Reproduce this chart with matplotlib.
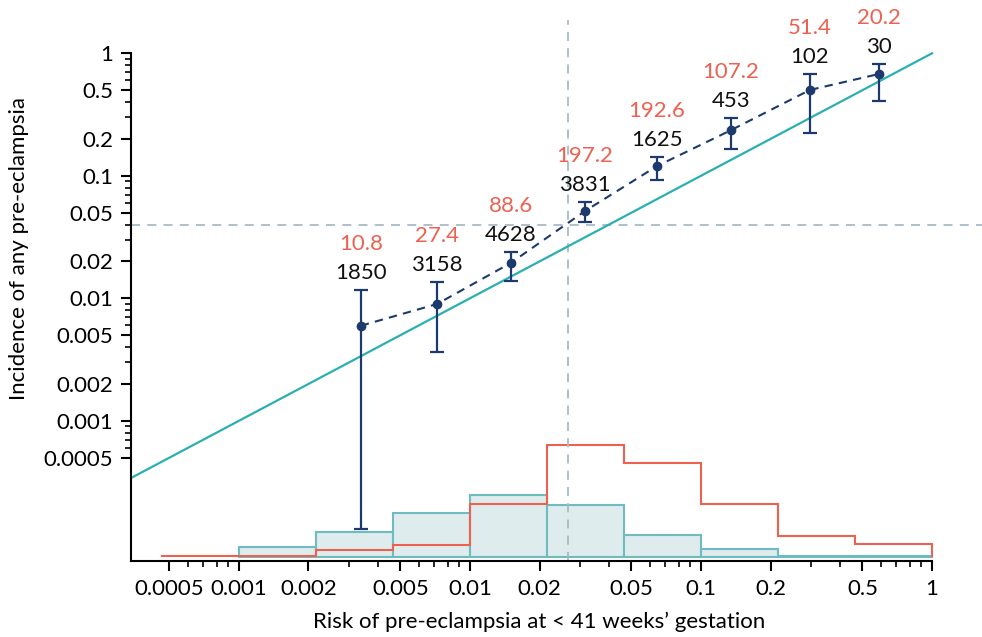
import numpy as np
import matplotlib.pyplot as plt
from matplotlib.ticker import FixedLocator, NullFormatter

plt.rcParams['font.family'] = ['Lato', 'DejaVu Sans']

# calibration groups
pred = [0.00337, 0.0072, 0.0150, 0.0315, 0.0645, 0.135, 0.296, 0.590]
obs = [0.00597, 0.00898, 0.0194, 0.0516, 0.120, 0.236, 0.502, 0.678]
obs_lo = [0.000130, 0.00365, 0.0138, 0.0420, 0.0924, 0.166, 0.224, 0.408]
obs_hi = [0.0117, 0.0136, 0.0239, 0.0611, 0.142, 0.296, 0.678, 0.818]
n_women = ['1850', '3158', '4628', '3831', '1625', '453', '102', '30']
n_events = ['10.8', '27.4', '88.6', '197.2', '192.6', '107.2', '51.4', '20.2']

# histogram of predicted risk (relative frequency), bins of 1/3 decade
bin_exp = [-10, -9, -8, -7, -6, -5, -4, -3, -2, -1, 0]
noncases = [0, 1.9, 4.9, 8.7, 12.5, 10.3, 4.3, 1.5, 0.1, 0.1]
cases = [0.05, 0.05, 1.3, 2.3, 10.5, 22.5, 18.9, 10.5, 4.1, 2.5]

ref_x = 0.0266
ref_y = 0.0397

navy = '#1d3a6e'
teal = '#2bb0b2'
red = '#ee6150'
grey = '#a9bbc7'

edges = 10.0 ** (np.array(bin_exp) / 3.0)

fig = plt.figure(figsize=(9.82, 6.37), dpi=100)
ax = fig.add_axes([0.1334, 0.1193, 0.8666, 0.8493])
ax.set_xscale('log')
ax.set_yscale('log')
ax.set_xlim(0.000341, 1.646)
ax.set_ylim(7.17e-5, 1.87)

# histogram on twin axis
ax2 = ax.twinx()
ax2.set_ylim(-0.9, 108.2)
ax2.bar(edges[:-1][1:], noncases[1:], width=np.diff(edges)[1:], align='edge',
        facecolor='#deeced', edgecolor='#6fbcc0', linewidth=1.5, zorder=1)
ax2.stairs(cases, edges, color=red, linewidth=1.5, zorder=2)
ax2.axis('off')

ax.set_zorder(ax2.get_zorder() + 1)
ax.patch.set_visible(False)

ax.axvline(ref_x, color=grey, ls=(0, (5, 4)), lw=1.3, zorder=1)
ax.axhline(ref_y, color=grey, ls=(0, (5, 4)), lw=1.3, zorder=1)

line_x = np.array([0.000341, 1.0])
ax.plot(line_x, line_x, color=teal, lw=1.6, zorder=2)

yerr = [np.array(obs) - np.array(obs_lo), np.array(obs_hi) - np.array(obs)]
ax.errorbar(pred, obs, yerr=yerr, fmt='o', color=navy, ms=6, capsize=5,
            elinewidth=1.6, capthick=1.6, zorder=4)
ax.plot(pred, obs, color=navy, ls=(0, (4, 3)), lw=1.5, zorder=3)

for i in range(len(pred)):
    ax.annotate(n_women[i], (pred[i], obs_hi[i]), xytext=(0, 5), textcoords='offset points',
                ha='center', va='bottom', fontsize=16, color='#111111', annotation_clip=False)
    ax.annotate(n_events[i], (pred[i], obs_hi[i]), xytext=(0, 26), textcoords='offset points',
                ha='center', va='bottom', fontsize=16, color=red, annotation_clip=False)

major = [0.0005, 0.001, 0.002, 0.005, 0.01, 0.02, 0.05, 0.1, 0.2, 0.5, 1]
labels = ['0.0005', '0.001', '0.002', '0.005', '0.01', '0.02', '0.05', '0.1', '0.2', '0.5', '1']
minor = []
for d in [0.0001, 0.001, 0.01, 0.1]:
    for m in [3, 4, 6, 7, 8, 9]:
        if 0.0005 <= m * d < 1:
            minor.append(m * d)

for axis in [ax.xaxis, ax.yaxis]:
    axis.set_major_locator(FixedLocator(major))
    axis.set_minor_locator(FixedLocator(minor))
    axis.set_minor_formatter(NullFormatter())
ax.set_xticklabels(labels)
ax.set_yticklabels(labels)

ax.tick_params(which='major', length=7, width=1.5, labelsize=16, direction='out', pad=6)
ax.tick_params(which='minor', length=4, width=1.2, direction='out')

ax.spines['top'].set_visible(False)
ax.spines['right'].set_visible(False)
ax.spines['left'].set_linewidth(1.5)
ax.spines['bottom'].set_linewidth(1.5)
ax.spines['left'].set_bounds(7.17e-5, 1)
ax.spines['bottom'].set_bounds(0.000341, 1)

ax.set_xlabel('Risk of pre-eclampsia at < 41 weeks\u2019 gestation', fontsize=16)
ax.set_ylabel('Incidence of any pre-eclampsia', fontsize=16)
ax.xaxis.set_label_coords(0.48, -0.094)
ax.yaxis.set_label_coords(-0.120, 0.578)

fig.savefig('out.png', dpi=100)
